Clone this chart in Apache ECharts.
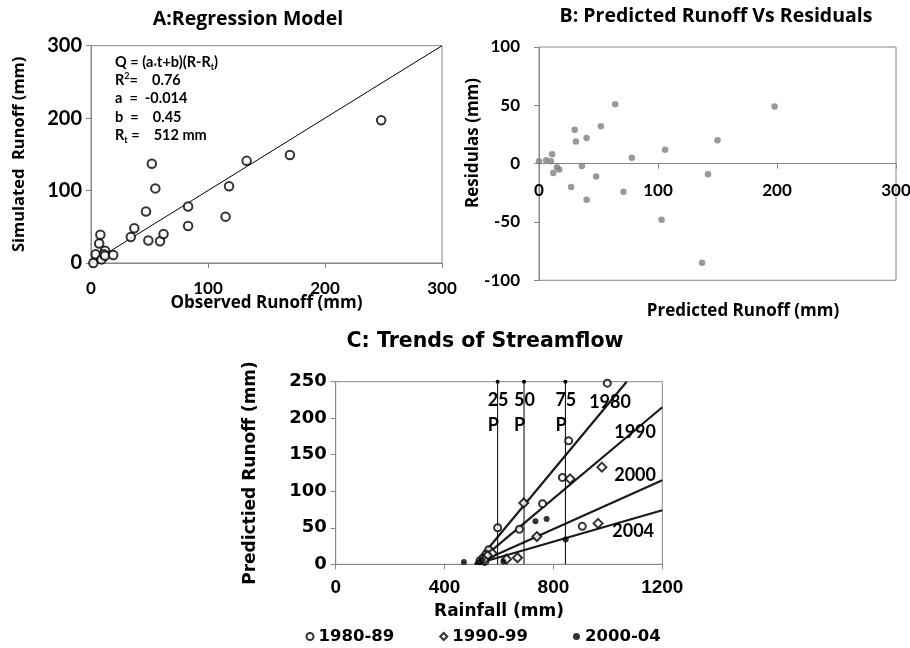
<!DOCTYPE html>
<html>
<head>
<meta charset="utf-8">
<title>Runoff regression</title>
<script src="https://cdn.jsdelivr.net/npm/echarts@6/dist/echarts.min.js"></script>
<style>
html, body { margin: 0; padding: 0; background: #fff; }
#chart { width: 910px; height: 648px; }
</style>
</head>
<body>
<div id="chart"></div>
<script>
// A: observed vs simulated runoff (mm)
var observedRunoff  = [2, 4, 7, 8, 9, 12, 11, 12, 19, 34, 37, 47, 49, 52, 55, 59, 62, 83, 83, 115, 118, 133, 170, 248];
var simulatedRunoff = [0, 12, 27, 39, 5, 17, 12, 10, 11, 36, 48, 71, 31, 137, 103, 30, 40, 78, 51, 64, 106, 141, 149, 197];
var oneToOne = [[0, 0], [300, 300]];

// B: predicted runoff vs residuals (mm)
var predictedRunoff = [0, 6, 10, 11, 12, 15, 17, 27, 30, 31, 36, 40, 40, 48, 52, 64, 71, 78, 103, 106, 137, 142, 150, 198];
var residuals       = [2, 3, 2, 8, -8, -3, -5, -20, 29, 19, -2, -31, 22, -11, 32, 51, -24, 5, -48, 12, -85, -9, 20, 49];

// C: rainfall vs runoff by decade
var rain8089 = [998, 856, 833, 760, 675, 595, 906, 530, 542, 552, 562, 548];
var flow8089 = [248, 169, 119, 83, 48, 50, 52, 5, 9, 14, 20, 4];
var rain9099 = [691, 861, 978, 964, 739, 668, 628, 575, 558, 545];
var flow9099 = [84, 117, 133, 56, 38, 9, 7, 15, 12, 6];
var rain0004 = [734, 775, 845, 471, 616, 528, 540];
var flow0004 = [59, 62, 34, 3, 4, 3, 6];

// fitted lines Q = (a*t+b)(R-Rt), ends
var trendNames = ['1980', '1990', '2000', '2004'];
var trendEnds = [[[512, 0], [1069, 250]], [[512, 0], [1200, 215]], [[512, 0], [1200, 115]], [[512, 0], [1200, 74]]];
var percentileNames = ['25', '50', '75'];
var percentileRain = [595, 692, 844];

var legendNames = ['1980-89', '1990-99', '2000-04'];

(function () {
    'use strict';
    var GRAY = '#868686';
    var CAL = 'Lato';
    var OPS = 'Open Sans';
    var ARI = 'Liberation Sans, Arial';
    var DJV = 'DejaVu Sans';

    function zip(xs, ys) {
        return xs.map(function (x, i) { return [x, ys[i]]; });
    }

    function valueAxis(grid, min, max, step, family, size, margin) {
        return {
            type: 'value', gridIndex: grid, min: min, max: max, interval: step,
            axisLine: { show: true, onZero: false, lineStyle: { color: GRAY, width: 1 } },
            axisTick: { show: true, length: 5, lineStyle: { color: GRAY } },
            splitLine: { show: false },
            axisLabel: { color: '#000', fontFamily: family, fontWeight: 'bold', fontSize: size, margin: margin,
                         formatter: function (v) { return String(v); } },
            nameTextStyle: { color: '#000', fontFamily: family, fontWeight: 'bold', fontSize: size },
            nameMoveOverlap: false
        };
    }

    function gridBox(l, t, r, b) {
        return { left: l, top: t, right: r, bottom: b, show: true, borderColor: GRAY, borderWidth: 1,
                 backgroundColor: 'transparent', containLabel: false, outerBoundsMode: 'none' };
    }

    var xA = valueAxis(0, 0, 300, 100, CAL, 17, 17);
    xA.name = 'Observed Runoff (mm)'; xA.nameLocation = 'middle'; xA.nameGap = 32;
    xA.nameTextStyle.fontFamily = OPS;
    var yA = valueAxis(0, 0, 300, 100, CAL, 20, 9);
    yA.name = 'Simulated  Runoff (mm)'; yA.nameLocation = 'middle'; yA.nameGap = 63;
    yA.nameTextStyle.fontFamily = OPS;
    yA.nameTextStyle.fontSize = 16.5;

    // B: x axis drawn along the zero line
    var xB = valueAxis(1, 0, 300, 100, CAL, 17, 18);
    xB.offset = -116.6;
    var yB = valueAxis(1, -100, 100, 50, CAL, 17, 19);

    var xC = valueAxis(2, 0, 1200, 400, ARI, 19, 14);
    xC.name = 'Rainfall (mm)'; xC.nameLocation = 'middle'; xC.nameGap = 39;
    xC.nameTextStyle.fontFamily = DJV;
    xC.nameTextStyle.fontSize = 17;
    var yC = valueAxis(2, 0, 250, 50, DJV, 18, 9);
    yC.name = 'Predictied Runoff (mm)'; yC.nameLocation = 'middle'; yC.nameGap = 77;
    yC.nameTextStyle.fontSize = 17;

    var series = [];

    series.push({
        type: 'line', xAxisIndex: 0, yAxisIndex: 0, data: oneToOne, symbol: 'none', silent: true,
        lineStyle: { color: '#000', width: 1 }, z: 2
    });
    series.push({
        type: 'scatter', xAxisIndex: 0, yAxisIndex: 0, data: zip(observedRunoff, simulatedRunoff),
        symbol: 'emptyCircle', symbolSize: 8.5, itemStyle: { color: '#000', borderWidth: 1 }, z: 3
    });

    series.push({
        type: 'scatter', xAxisIndex: 1, yAxisIndex: 1, data: zip(predictedRunoff, residuals),
        symbol: 'circle', symbolSize: 6.5, itemStyle: { color: '#808080' }, z: 3
    });

    trendEnds.forEach(function (ends) {
        series.push({
            type: 'line', xAxisIndex: 2, yAxisIndex: 2, data: ends, symbol: 'none', silent: true,
            lineStyle: { color: '#1a1a1a', width: 2.2 }, z: 2
        });
    });

    percentileRain.forEach(function (r) {
        series.push({
            type: 'line', xAxisIndex: 2, yAxisIndex: 2, silent: true, z: 2,
            data: [{ value: [r, 0], symbol: 'none' }, [r, 250]],
            symbol: 'circle', symbolSize: 4, showAllSymbol: true,
            itemStyle: { color: '#000' }, lineStyle: { color: '#000', width: 1 }
        });
    });

    series.push({
        name: legendNames[0], type: 'scatter', xAxisIndex: 2, yAxisIndex: 2, data: zip(rain8089, flow8089),
        symbol: 'emptyCircle', symbolSize: 7, itemStyle: { color: '#000', borderWidth: 1 }, z: 4
    });
    series.push({
        name: legendNames[1], type: 'scatter', xAxisIndex: 2, yAxisIndex: 2, data: zip(rain9099, flow9099),
        symbol: 'emptyDiamond', symbolSize: 9, itemStyle: { color: '#000', borderWidth: 1 }, z: 4
    });
    series.push({
        name: legendNames[2], type: 'scatter', xAxisIndex: 2, yAxisIndex: 2, data: zip(rain0004, flow0004),
        symbol: 'circle', symbolSize: 6, itemStyle: { color: '#000' }, z: 4
    });

    function label(x, y, text, family, size, rot) {
        return {
            type: 'text', x: x, y: y, rotation: rot || 0, silent: true, z: 10,
            style: { text: text, fill: '#000', fontFamily: family, fontWeight: 'bold', fontSize: size,
                     align: 'center', verticalAlign: 'middle' }
        };
    }

    var eqText = [
        '{n|Q = (a}{sub|*}{n|t+b)(R-R}{sub|t}{n|)}',
        '{n|R}{sup|2}{n|=    0.76}',
        '{n|a  =  -0.014}',
        '{n|b  =    0.45}',
        '{n|R}{sub|t}{n| =    512 mm}'
    ].join('\n');

    var graphics = [
        label(248, 19, 'A:Regression Model', OPS, 19.5),
        label(716, 16, 'B: Predicted Runoff Vs Residuals', OPS, 19.5),
        label(485, 342, 'C: Trends of Streamflow', DJV, 20.5),
        label(473, 143, 'Residulas (mm)', OPS, 17, Math.PI / 2),
        label(743, 311, 'Predicted Runoff (mm)', OPS, 17),
        {
            type: 'text', x: 115, y: 53, silent: true,
            style: {
                text: eqText, fill: '#000',
                rich: {
                    n: { fontFamily: CAL, fontWeight: 'bold', fontSize: 14.5, lineHeight: 18.3, color: '#000' },
                    sub: { fontFamily: CAL, fontWeight: 'bold', fontSize: 9, lineHeight: 10, verticalAlign: 'bottom', color: '#000' },
                    sup: { fontFamily: CAL, fontWeight: 'bold', fontSize: 9, lineHeight: 10, verticalAlign: 'top', color: '#000' }
                }
            }
        }
    ];

    var option = {
        animation: false,
        backgroundColor: '#fff',
        grid: [gridBox(91, 45.7, 468, 385), gridBox(539, 47, 14, 367.7), gridBox(335.7, 381.7, 247.7, 83.7)],
        xAxis: [xA, xB, xC],
        yAxis: [yA, yB, yC],
        legend: {
            data: legendNames, left: 305.5, top: 628, itemGap: 45, itemWidth: 7, itemHeight: 7, padding: 0,
            textStyle: { color: '#000', fontFamily: DJV, fontWeight: 'bold', fontSize: 16.5 },
            selectedMode: false
        },
        graphic: graphics,
        series: series
    };

    var chart = echarts.init(document.getElementById('chart'));
    chart.setOption(option);

    // tags on panel C, anchored in data space through the chart's own axes
    var trendLabelAt = [[1008, 222], [1100, 181], [1100, 122], [1093, 46]];
    var tags = [];
    trendNames.forEach(function (n, i) {
        var p = chart.convertToPixel({ gridIndex: 2 }, trendLabelAt[i]);
        tags.push(label(p[0], p[1], n, CAL, 18));
    });
    percentileRain.forEach(function (r, i) {
        var p = chart.convertToPixel({ gridIndex: 2 }, [r, 250]);
        var t = label(p[0] - 10, p[1] + 6, percentileNames[i] + '\nP', CAL, 18);
        t.style.align = 'left';
        t.style.verticalAlign = 'top';
        t.style.lineHeight = 25;
        tags.push(t);
    });
    chart.setOption({ graphic: graphics.concat(tags) });

    window.addEventListener('resize', function () { chart.resize(); });
})();
</script>
</body>
</html>
